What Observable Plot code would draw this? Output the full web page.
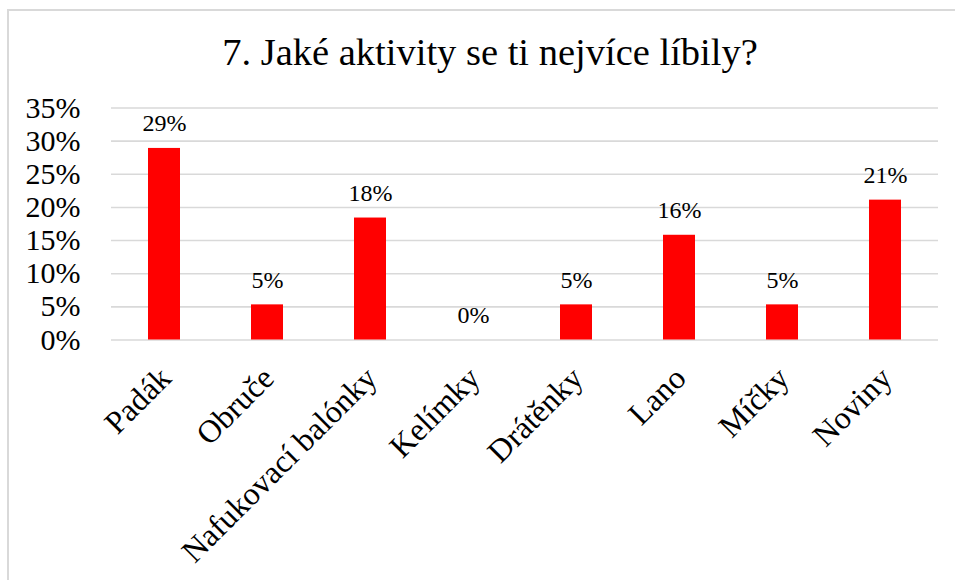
<!DOCTYPE html>
<html>
<head>
<meta charset="utf-8">
<script src="https://cdn.jsdelivr.net/npm/d3@7"></script>
<script src="https://cdn.jsdelivr.net/npm/@observablehq/plot@0.6"></script>
<style>
  html, body { margin: 0; padding: 0; background: #fff; }
  #wrap { position: relative; width: 955px; height: 580px; overflow: hidden; background: #fff; }
  #frame { position: absolute; left: 7px; top: 9px; width: 1000px; height: 700px; border: 2px solid #d9d9d9; box-sizing: border-box; }
  #title { position: absolute; left: 0; top: 33px; width: 980px; text-align: center;
           font-family: "Liberation Serif", "Times New Roman", serif; font-size: 38.5px; line-height: 38px; color: #000; }
  #chart { position: absolute; left: 0; top: 90px; }
  #chart svg, #chart svg g, #chart svg text { font-family: "Liberation Serif", "Times New Roman", serif !important; }
</style>
</head>
<body>
<div id="wrap">
  <div id="frame"></div>
  <div id="title">7. Jaké aktivity se ti nejvíce líbily?</div>
  <div id="chart"></div>
</div>
<script>
const categories = ["Padák", "Obruče", "Nafukovací balónky", "Kelímky", "Drátěnky", "Lano", "Míčky", "Noviny"];
const values = [0.289, 0.053, 0.184, 0, 0.053, 0.158, 0.053, 0.211];
const yTicks = [0, 0.05, 0.10, 0.15, 0.20, 0.25, 0.30, 0.35];

const data = categories.map((c, i) => ({category: c, value: values[i]}));
const font = "Liberation Serif, Times New Roman, serif";

const plot = Plot.plot({
  width: 955,
  height: 490,
  marginTop: 17.5,
  marginBottom: 240.5,
  marginLeft: 111,
  marginRight: 17,
  style: {fontFamily: font, color: "#000", background: "transparent", overflow: "visible"},
  x: {domain: categories, paddingInner: 0.69, paddingOuter: 0.345, label: null},
  y: {domain: [0, 0.35], label: null},
  marks: [
    Plot.gridY(yTicks, {stroke: "#d9d9d9", strokeOpacity: 1, strokeWidth: 1.6}),
    Plot.barY(data, {x: "category", y: "value", fill: "#ff0000"}),
    Plot.text(data, {x: "category", y: "value", text: d => d3.format(".0%")(d.value),
                     dy: -25, fontSize: 24, fill: "#000", fontFamily: font}),
    Plot.axisY(yTicks, {tickSize: 0, tickPadding: 31, tickFormat: d3.format(".0%"), fontSize: 30, label: null, fontFamily: font}),
    Plot.axisX({tickSize: 0, tickPadding: 33, dx: 1, tickRotate: -45, fontSize: 32, label: null, fontFamily: font})
  ]
});
document.getElementById("chart").appendChild(plot);
</script>
</body>
</html>
